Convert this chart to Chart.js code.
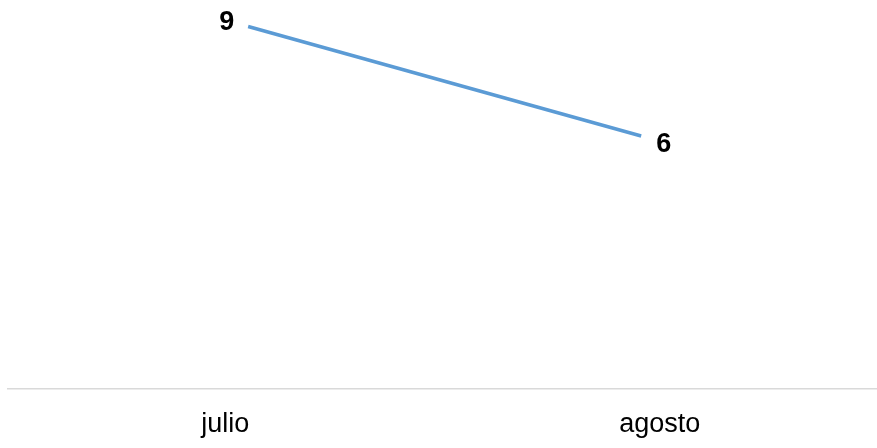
<!DOCTYPE html>
<html>
<head>
<meta charset="utf-8">
<script src="https://cdn.jsdelivr.net/npm/chart.js@4"></script>
<style>
  html, body { margin: 0; padding: 0; background: #fff; }
  #wrap { width: 877px; height: 448px; }
</style>
</head>
<body>
<div id="wrap"><canvas id="chart"></canvas></div>
<script>
const months = ["julio", "agosto"];
const values = [9, 6];

const FONT = "'Liberation Sans', Arial, sans-serif";

// data labels next to each point
const pointLabels = {
  id: "pointLabels",
  afterDatasetsDraw(chart) {
    const ctx = chart.ctx;
    const meta = chart.getDatasetMeta(0);
    ctx.save();
    ctx.font = "bold 27px " + FONT;
    ctx.fillStyle = "#000";
    ctx.textBaseline = "middle";
    meta.data.forEach(function (pt, i) {
      if (i === 0) {
        ctx.textAlign = "right";
        ctx.fillText(String(values[i]), pt.x - 14, pt.y - 4);
      } else {
        ctx.textAlign = "left";
        ctx.fillText(String(values[i]), pt.x + 15, pt.y + 9);
      }
    });
    ctx.restore();
  }
};

new Chart(document.getElementById("chart"), {
  type: "line",
  data: {
    labels: months,
    datasets: [{
      data: values.map(function (v, i) { return { x: i, y: v }; }),
      xAxisID: "xp",
      borderColor: "#5B9BD5",
      borderWidth: 3.5,
      pointRadius: 0,
      fill: false,
      tension: 0
    }]
  },
  options: {
    responsive: true,
    maintainAspectRatio: false,
    animation: false,
    layout: { padding: { left: 8, right: 0, top: 0, bottom: 0 } },
    plugins: { legend: { display: false }, tooltip: { enabled: false } },
    scales: {
      xp: {
        type: "linear",
        display: false,
        min: -0.611,
        max: 1.6
      },
      x: {
        type: "category",
        position: "bottom",
        offset: true,
        grid: { display: false, drawTicks: false },
        border: { display: true, color: "#d9d9d9", width: 1.5 },
        ticks: {
          color: "#000",
          font: { family: FONT, size: 27 },
          padding: 19,
          maxRotation: 0
        },
        afterFit: function (axis) { axis.height = 59; }
      },
      y: {
        display: false,
        min: -0.93,
        max: 9.726
      }
    }
  },
  plugins: [pointLabels]
});
</script>
</body>
</html>
